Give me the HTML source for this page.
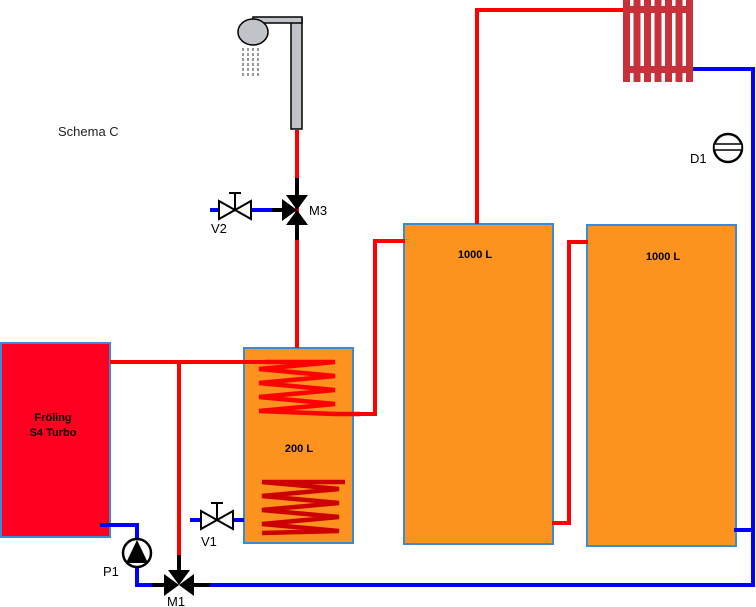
<!DOCTYPE html>
<html><head><meta charset="utf-8"><style>
html,body{margin:0;padding:0;background:#fff;}
svg{display:block;font-family:"Liberation Sans",Arial,sans-serif;}
</style></head><body>
<svg width="756" height="607" viewBox="0 0 756 607" xmlns="http://www.w3.org/2000/svg">
<text x="58" y="136" font-size="13" fill="#222">Schema C</text>

<rect x="1" y="343" width="109" height="194" fill="#ff0020" stroke="#3a8ad8" stroke-width="2"/>
<text x="53" y="421" font-size="11" font-weight="bold" text-anchor="middle">Fröling</text>
<text x="53" y="436" font-size="11" font-weight="bold" text-anchor="middle">S4 Turbo</text>

<rect x="244" y="348" width="109" height="195" fill="#fc931e" stroke="#3a8ad8" stroke-width="2"/>
<text x="299" y="452" font-size="11" font-weight="bold" text-anchor="middle">200 L</text>

<rect x="404" y="224" width="149" height="320" fill="#fc931e" stroke="#3a8ad8" stroke-width="2"/>
<text x="475" y="258" font-size="11" font-weight="bold" text-anchor="middle">1000 L</text>
<rect x="587" y="225" width="149" height="321" fill="#fc931e" stroke="#3a8ad8" stroke-width="2"/>
<text x="663" y="260" font-size="11" font-weight="bold" text-anchor="middle">1000 L</text>

<g stroke="#ff0000" stroke-width="4" fill="none">
<polyline points="110,362 335,362"/>
<polyline points="179,362 179,555"/>
<polyline points="297,348 297,192"/>
<polyline points="297,185 297,130"/>
<polyline points="335,414 375,414 375,241 405,241"/>
<polyline points="552,523 569,523 569,242 588,242"/>
<polyline points="477,224 477,10 625,10"/>
</g>
<polyline points="265,362 335,362 259,369 335,376 259,383 335,390 259,397 335,404 259,411 335,414 360,414" stroke="#ff0000" stroke-width="4.5" fill="none" stroke-linejoin="bevel"/>
<polyline points="345,482 262,482 339,489 262,496 339,503 262,510 339,517 262,524 339,531 262,533" stroke="#cc0000" stroke-width="4.5" fill="none" stroke-linejoin="bevel"/>

<g stroke="#0000ff" stroke-width="4" fill="none">
<polyline points="100,525 137,525 137,585 152,585"/>
<polyline points="210,585 753,585 753,69 693,69"/>
<polyline points="734,530 753,530"/>
<polyline points="190,520 201,520"/>
<polyline points="230,520 244,520"/>
<polyline points="210,210 219,210"/>
<polyline points="251,210 272,210"/>
</g>
<g stroke="#000" stroke-width="4">
<line x1="272" y1="210" x2="290" y2="210"/>
<line x1="297" y1="178" x2="297" y2="200"/>
<line x1="297" y1="220" x2="297" y2="240"/>
<line x1="179" y1="555" x2="179" y2="578"/>
<line x1="152" y1="585" x2="170" y2="585"/>
<line x1="188" y1="585" x2="210" y2="585"/>
</g>

<g fill="#000">
<polygon points="286,195 308,195 297,210"/>
<polygon points="286,225 308,225 297,210"/>
<polygon points="282,199 282,221 297,210"/>
</g>
<text x="309" y="215" font-size="13">M3</text>

<g fill="#000">
<polygon points="168,570 190,570 179,585"/>
<polygon points="164,574 164,596 179,585"/>
<polygon points="194,574 194,596 179,585"/>
</g>
<text x="167" y="606" font-size="13">M1</text>

<g stroke="#000" stroke-width="2" fill="#fff">
<polygon points="219,201 219,219 251,201 251,219"/>
<line x1="235" y1="210" x2="235" y2="193"/>
<line x1="229" y1="193" x2="241" y2="193"/>
</g>
<text x="211" y="233" font-size="13">V2</text>
<g stroke="#000" stroke-width="2" fill="#fff">
<polygon points="201,511 201,529 233,511 233,529"/>
<line x1="217" y1="520" x2="217" y2="503"/>
<line x1="211" y1="503" x2="223" y2="503"/>
</g>
<text x="201" y="546" font-size="13">V1</text>

<circle cx="137" cy="553" r="14" fill="#fff" stroke="#000" stroke-width="2.5"/>
<polygon points="137,540 126,563 148,563" fill="#000"/>
<text x="103" y="576" font-size="13">P1</text>

<circle cx="728" cy="148" r="14" fill="#fff" stroke="#000" stroke-width="2.5"/>
<rect x="714" y="144" width="28" height="6" fill="#fff" stroke="#000" stroke-width="1.5"/>
<text x="690" y="163" font-size="13">D1</text>

<g fill="#c8303a">
<rect x="623" y="6" width="70" height="7"/>
<rect x="623" y="66" width="70" height="7"/>
<rect x="623" y="0" width="7" height="82"/>
<rect x="633.5" y="0" width="7" height="82"/>
<rect x="644" y="0" width="7" height="82"/>
<rect x="654.5" y="0" width="7" height="82"/>
<rect x="665" y="0" width="7" height="82"/>
<rect x="675.5" y="0" width="7" height="82"/>
<rect x="686" y="0" width="7" height="82"/>
</g>

<rect x="291" y="19" width="11" height="110" fill="#c0c4c8" stroke="#000" stroke-width="1.5"/>
<rect x="253" y="17" width="49" height="6" fill="#c0c4c8" stroke="#000" stroke-width="1.5"/>
<ellipse cx="253" cy="32" rx="15" ry="13" fill="#c0c4c8" stroke="#000" stroke-width="1.5"/>
<g stroke="#333" stroke-width="1" stroke-dasharray="3,2">
<line x1="243" y1="48" x2="243" y2="78"/>
<line x1="248" y1="48" x2="248" y2="76"/>
<line x1="253" y1="48" x2="253" y2="78"/>
<line x1="258" y1="48" x2="258" y2="76"/>
</g>
</svg>
</body></html>
